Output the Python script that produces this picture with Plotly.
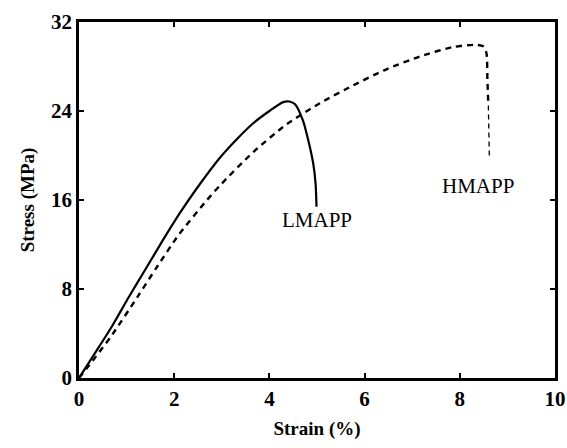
import plotly.graph_objects as go

# LMAPP (solid)
lm_strain = [0, 0.42, 0.70, 1.05, 1.40, 1.75, 2.10, 2.45, 2.96, 3.30, 3.66, 4.0, 4.29, 4.42, 4.54, 4.7, 4.78, 4.92, 4.97, 4.99]
lm_stress = [0, 2.8, 4.7, 7.3, 9.8, 12.3, 14.7, 16.9, 19.8, 21.4, 22.9, 24.0, 24.8, 24.85, 24.6, 23.2, 22.0, 19.3, 17.5, 15.4]

# HMAPP (dashed)
hm_strain = [0, 0.35, 0.70, 1.23, 1.64, 2.10, 2.63, 2.96, 3.66, 4.36, 5.06, 5.76, 6.46, 7.16, 7.86, 8.35, 8.5, 8.56, 8.58, 8.6]
hm_stress = [0, 1.9, 3.9, 7.3, 10.0, 12.9, 15.7, 17.3, 20.3, 22.8, 24.7, 26.3, 27.75, 28.9, 29.75, 29.95, 29.8, 29.2, 26.8, 24.5]
# HMAPP fracture tail (thin dashed)
hm_tail_strain = [8.6, 8.62]
hm_tail_stress = [24.5, 19.95]

x_ticks = [0, 2, 4, 6, 8, 10]
y_ticks = [0, 8, 16, 24, 32]

FONT = "Liberation Serif"

fig = go.Figure()
fig.add_trace(go.Scatter(x=lm_strain, y=lm_stress, mode="lines",
                         line=dict(color="black", width=2.2, shape="spline", smoothing=0.7), name="LMAPP"))
fig.add_trace(go.Scatter(x=hm_strain, y=hm_stress, mode="lines",
                         line=dict(color="black", width=2.4, dash="6px,5px", shape="spline", smoothing=0.7), name="HMAPP"))
fig.add_trace(go.Scatter(x=hm_tail_strain, y=hm_tail_stress, mode="lines",
                         line=dict(color="black", width=1.3, dash="5px,4px"), name="HMAPP tail"))

fig.add_annotation(x=5.0, y=14.2, text="LMAPP", showarrow=False, xanchor="center", yanchor="middle",
                   font=dict(family=FONT, size=21, color="black"))
fig.add_annotation(x=8.38, y=17.3, text="HMAPP", showarrow=False, xanchor="center", yanchor="middle",
                   font=dict(family=FONT, size=21, color="black"))

axis_common = dict(showline=True, linecolor="black", linewidth=2.5, mirror="ticks",
                   ticks="inside", ticklen=5, tickwidth=2, tickcolor="black",
                   showgrid=False, zeroline=False, automargin=False,
                   tickfont=dict(family=FONT, size=21, color="black", weight="bold"))

fig.update_layout(
    width=567, height=448,
    margin=dict(l=79, r=12, t=22, b=70),
    paper_bgcolor="white", plot_bgcolor="white",
    showlegend=False,
    xaxis=dict(range=[0, 10], tickvals=x_ticks, ticktext=[str(v) for v in x_ticks],
               title=dict(text="Strain (%)", font=dict(family=FONT, size=19, color="black", weight="bold"), standoff=12),
               **axis_common),
    yaxis=dict(range=[0, 32], tickvals=y_ticks, ticktext=[str(v) for v in y_ticks],
               title=dict(text="Stress (MPa)", font=dict(family=FONT, size=19, color="black", weight="bold"), standoff=12),
               **axis_common),
)

fig.write_html("out.html")
